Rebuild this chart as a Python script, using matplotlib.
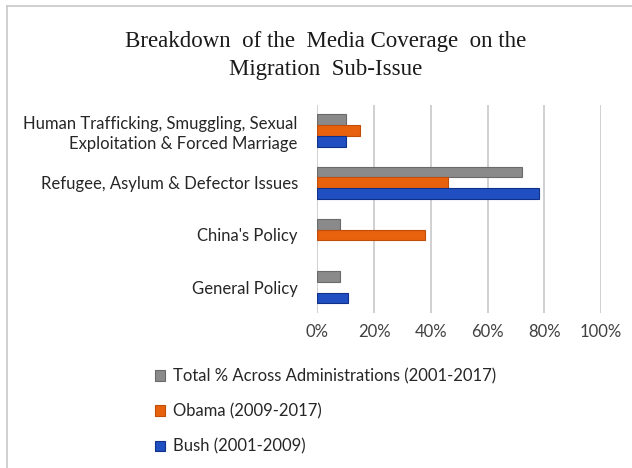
import matplotlib
matplotlib.use("Agg")
import matplotlib.pyplot as plt
import numpy as np
from matplotlib.patches import Patch
from matplotlib.lines import Line2D

categories = [
    "Human Trafficking, Smuggling, Sexual\nExploitation & Forced Marriage",
    "Refugee, Asylum & Defector Issues",
    "China's Policy",
    "General Policy",
]
total = [10, 72, 8, 8]
obama = [15, 46, 38, 0]
bush = [10, 78, 0, 11]
series_names = [
    "Total % Across Administrations (2001-2017)",
    "Obama (2009-2017)",
    "Bush (2001-2009)",
]
xticks = [0, 20, 40, 60, 80, 100]

faces = ["#8a8a8a", "#e8620e", "#1f4fc0"]
edges = ["#6a6a6a", "#c04e08", "#10308a"]

fig = plt.figure(figsize=(6.32, 4.68), dpi=100)
ax = fig.add_axes([0.502, 0.331, 0.449, 0.445])

y = np.arange(len(categories))
h = 0.21
for i, vals in enumerate([total, obama, bush]):
    widths = [0.8 if v > 0 else 0 for v in vals]
    ax.barh(y + (i - 1) * h, vals, height=h, color=faces[i],
            edgecolor=edges[i], linewidth=widths, zorder=3)

ax.set_ylim(len(categories) - 0.5, -0.5)
ax.set_xlim(0, 100)
ax.set_xticks(xticks)
ax.set_xticklabels([f"{t}%" for t in xticks], fontsize=12,
                   family="Lato", color="#404040")
ax.set_yticks(y)
ax.set_yticklabels(categories, fontsize=12, family="Lato", color="#262626",
                   linespacing=1.3)
ax.tick_params(length=0, pad=8)
ax.tick_params(axis="y", pad=14)
ax.grid(axis="x", color="#c8c8c8", linewidth=1.2, zorder=0)
for s in ax.spines.values():
    s.set_visible(False)

fig.text(0.515, 0.912, "Breakdown  of the  Media Coverage  on the",
         ha="center", va="center", fontsize=16.5, family="Liberation Serif",
         color="#1a1a1a")
fig.text(0.515, 0.852, "Migration  Sub-Issue", ha="center", va="center",
         fontsize=16.5, family="Liberation Serif", color="#1a1a1a")

handles = [Patch(facecolor=faces[i], edgecolor=edges[i], linewidth=0.8)
           for i in range(3)]
leg = fig.legend(handles, series_names, loc="upper left",
                 bbox_to_anchor=(0.235, 0.228), frameon=False,
                 prop={"family": "Lato", "size": 12},
                 handlelength=0.6, handleheight=0.6, handletextpad=0.45,
                 labelspacing=1.15, borderaxespad=0)
for t in leg.get_texts():
    t.set_color("#262626")

# outer border lines
fig.add_artist(Line2D([0.011, 1.0], [0.987, 0.987], color="#c8c8c8",
                      linewidth=1.2, transform=fig.transFigure))
fig.add_artist(Line2D([0.011, 0.011], [0.0, 0.987], color="#c8c8c8",
                      linewidth=1.2, transform=fig.transFigure))

fig.savefig("out.png", dpi=100)
